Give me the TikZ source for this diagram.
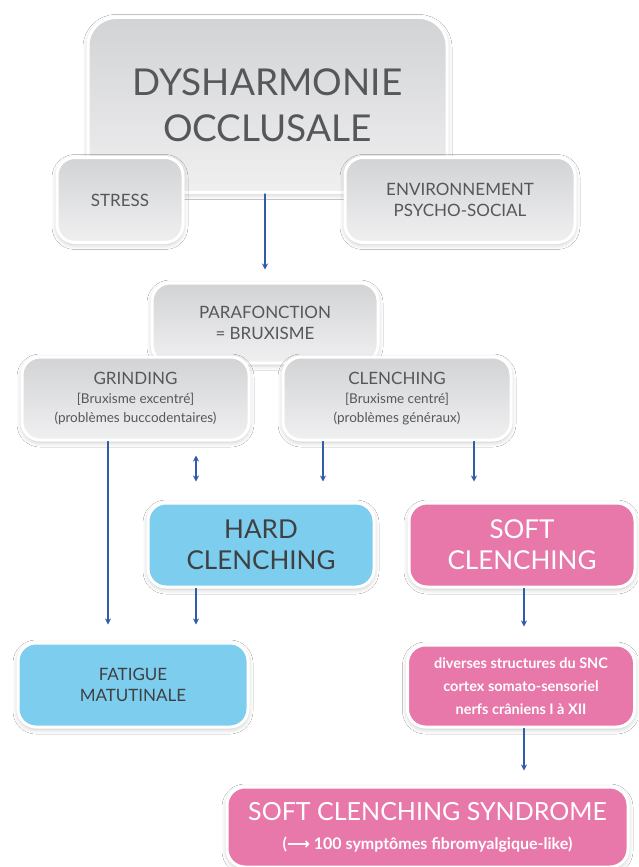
\documentclass[tikz,border=0pt]{standalone}
\usepackage{fontspec}
\setmainfont{Lato}
\newfontfamily\arrowfont{DejaVu Sans}
\usetikzlibrary{arrows.meta,shadows.blur}
\definecolor{arrowblue}{HTML}{2F5EA6}
\definecolor{greytop}{HTML}{D2D3D5}
\definecolor{greybot}{HTML}{F0F0F1}
\definecolor{greytext}{HTML}{55575A}
\definecolor{hardblue}{HTML}{7DCDEE}
\definecolor{softpink}{HTML}{E878A9}
\definecolor{darktext}{HTML}{3F4042}
\newcommand\subline{\fontsize{13.5}{19}\selectfont}
\newcommand\mainline{\fontsize{17}{21}\selectfont}

\begin{document}
\begin{tikzpicture}[x=1pt, y=-1pt, line cap=round, line join=round, >={Stealth[length=6pt,width=6pt]}]
  \tikzset{
    box/.style={draw=white, line width=3pt, rounded corners=18pt, inner sep=0pt, align=center,
      blur shadow={shadow xshift=0pt, shadow yshift=-2pt, shadow blur radius=5pt, shadow opacity=25}},
    grey box/.style={box, top color=greytop, bottom color=greybot, text=greytext},
    blue box/.style={box, fill=hardblue, text=darktext},
    pink box/.style={box, fill=softpink, text=white},
    link/.style={->, draw=arrowblue, line width=1.3pt, shorten >=17pt}
  }
  \fill[white] (0,0) rectangle (638,867);
  \useasboundingbox (0,0) rectangle (638,867);

  % top of the chart
  \node[grey box, rounded corners=28pt, minimum width=359pt, minimum height=175pt,
    font=\fontsize{37}{46}\selectfont] (top) at (267.5,105) {DYSHARMONIE\\OCCLUSALE};
  \node[grey box, minimum width=126pt, minimum height=85pt, font=\mainline] (stress) at (120,200) {STRESS};
  \node[grey box, minimum width=230pt, minimum height=85pt, font=\mainline] (env) at (460,200) {ENVIRONNEMENT\\PSYCHO-SOCIAL};

  \node[grey box, minimum width=226pt, minimum height=80pt, font=\mainline] (para) at (265,323) {PARAFONCTION\\= BRUXISME};
  \node[grey box, minimum width=227pt, minimum height=83pt, font=\subline] (grinding) at (135.5,398.5)
    {{\mainline GRINDING}\\{[Bruxisme excentré]}\\{(problèmes buccodentaires)}};
  \node[grey box, minimum width=228pt, minimum height=83pt, font=\subline] (clenching) at (397,398.5)
    {{\mainline CLENCHING}\\{[Bruxisme centré]}\\{(problèmes généraux)}};

  % hard / soft
  \node[blue box, minimum width=226pt, minimum height=84pt, font=\fontsize{26}{31}\selectfont] (hard) at (261,545) {HARD\\CLENCHING};
  \node[pink box, minimum width=226pt, minimum height=84pt, font=\fontsize{26}{31}\selectfont] (soft) at (522,545) {SOFT\\CLENCHING};

  \node[blue box, minimum width=230pt, minimum height=84pt, font=\mainline] (fatigue) at (133,685) {FATIGUE\\MATUTINALE};
  \node[pink box, minimum width=227pt, minimum height=82pt, font=\bfseries\fontsize{14.5}{23}\selectfont] (diverses) at (521,686)
    {diverses structures du SNC\\cortex somato-sensoriel\\nerfs crâniens I à XII};
  \node[pink box, minimum width=401pt, minimum height=80pt, font=\bfseries\fontsize{16}{29}\selectfont] (scs) at (427.5,827)
    {{\mdseries\fontsize{25}{30}\selectfont SOFT CLENCHING SYNDROME}\\({\arrowfont ⟶} 100 symptômes fibromyalgique-like)};

  % arrows
  \coordinate (gx) at (108,0);
  \coordinate (hx) at (196,0);
  \coordinate (cx) at (323,0);
  \coordinate (sx) at (474,0);
  \coordinate (dx) at (524,0);
  \draw[link, shorten >=12pt] (top.south -| para) -- (para);
  \draw[link] (grinding.south -| gx) -- (fatigue.north -| gx);
  \draw[link, <->, shorten <=14pt, shorten >=20pt] (grinding.south -| hx) -- (hard.north -| hx);
  \draw[link, shorten >=20pt] (clenching.south -| cx) -- (hard.north -| cx);
  \draw[link, shorten >=20pt] (clenching.south -| sx) -- (soft.north -| sx);
  \draw[link] (hard.south -| hx) -- (fatigue.north -| hx);
  \draw[link] (soft.south -| dx) -- (diverses.north -| dx);
  \draw[link, shorten >=15pt] (diverses.south -| dx) -- (scs.north -| dx);
\end{tikzpicture}
\end{document}
